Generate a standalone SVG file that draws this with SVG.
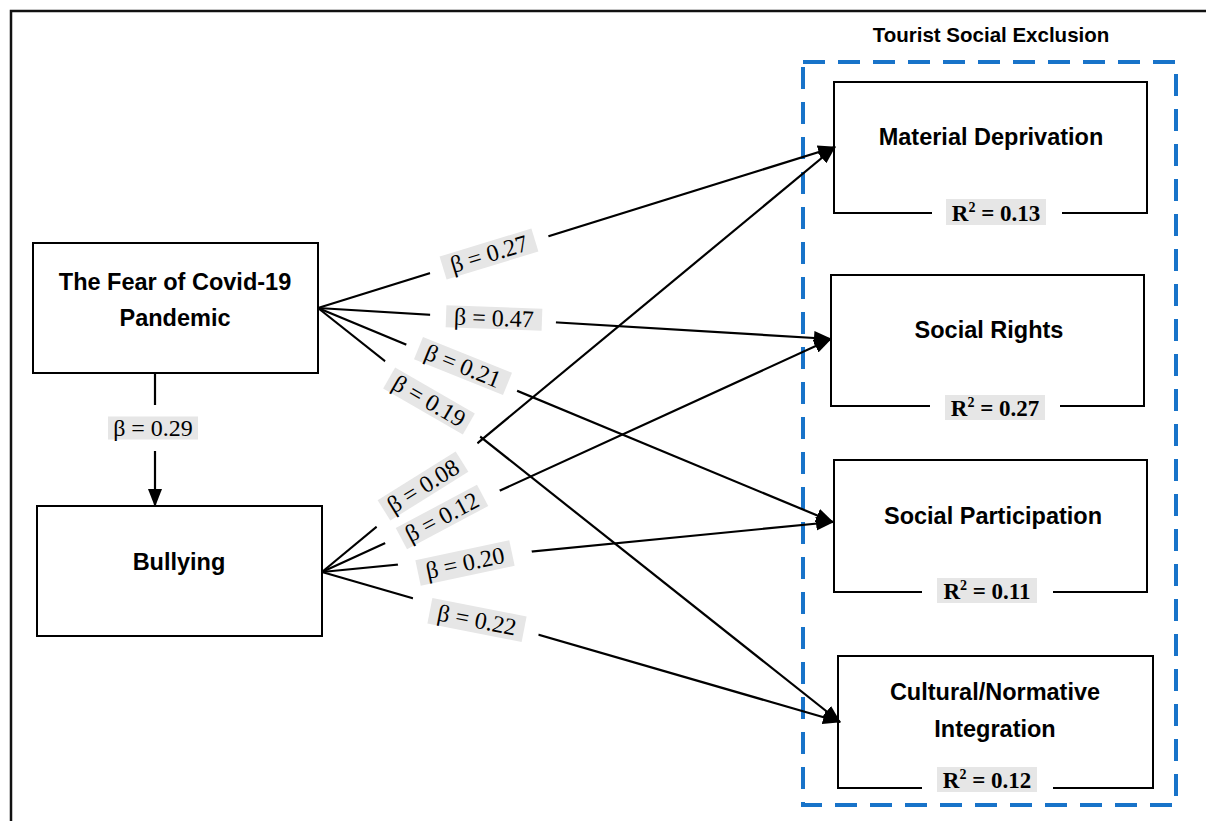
<svg xmlns="http://www.w3.org/2000/svg" width="1206" height="821" viewBox="0 0 1206 821">
<style>
.node{fill:#fff;stroke:#000;stroke-width:2}
.nt{font-family:"Liberation Sans",Arial,sans-serif;font-weight:bold;font-size:23.5px;text-anchor:middle;fill:#000}
.conn{stroke:#000;stroke-width:2.2;fill:none;marker-end:url(#ah)}
.wb{fill:#fff}
.gb{fill:#e6e6e6}
.bt{font-family:"Liberation Serif","Times New Roman",serif;font-size:24px;text-anchor:middle;fill:#000}
.rt{font-family:"Liberation Serif","Times New Roman",serif;font-size:23px;font-weight:bold;text-anchor:middle;fill:#000}
</style>
<defs>
<marker id="ah" markerUnits="userSpaceOnUse" viewBox="0 0 18 14" markerWidth="18" markerHeight="14" refX="17" refY="7" orient="auto">
<path d="M0,0 L18,7 L0,14 z" fill="#000"/>
</marker>
</defs>
<rect width="1206" height="821" fill="#fff"/>
<path d="M11,821 V11 H1206" fill="none" stroke="#111" stroke-width="2.5"/>
<g id="group-tse">
<rect x="803" y="62" width="373" height="743" fill="none" stroke="#1873c9" stroke-width="4" stroke-dasharray="22 13"/>
<text x="991" y="42" font-family="Liberation Sans,Arial,sans-serif" font-weight="bold" font-size="20.5" text-anchor="middle">Tourist Social Exclusion</text>
</g>
<g id="node-fear">
<rect class="node" x="33" y="243" width="285" height="130"/>
<text class="nt" x="175" y="290">The Fear of Covid-19</text>
<text class="nt" x="175" y="326">Pandemic</text>
</g>
<g id="node-bullying">
<rect class="node" x="37" y="506" width="285" height="130"/>
<text class="nt" x="179" y="570">Bullying</text>
</g>
<g id="node-md">
<rect class="node" x="834" y="82" width="313" height="131"/>
<text class="nt" x="991" y="145">Material Deprivation</text>
<rect class="wb" x="932" y="205" width="130" height="20"/>
<rect class="gb" x="946" y="199" width="100" height="26"/>
<text class="rt" x="996" y="221">R<tspan font-size="14" dy="-9">2</tspan><tspan dy="9"> = 0.13</tspan></text>
</g>
<g id="node-sr">
<rect class="node" x="831" y="275" width="313" height="131"/>
<text class="nt" x="989" y="338">Social Rights</text>
<rect class="wb" x="930" y="398" width="130" height="20"/>
<rect class="gb" x="945" y="395" width="100" height="25"/>
<text class="rt" x="995" y="416">R<tspan font-size="14" dy="-9">2</tspan><tspan dy="9"> = 0.27</tspan></text>
</g>
<g id="node-sp">
<rect class="node" x="834" y="460" width="313" height="132"/>
<text class="nt" x="993" y="524">Social Participation</text>
<rect class="wb" x="922" y="584" width="131" height="20"/>
<rect class="gb" x="937" y="578" width="100" height="25"/>
<text class="rt" x="987" y="599">R<tspan font-size="14" dy="-9">2</tspan><tspan dy="9"> = 0.11</tspan></text>
</g>
<g id="node-cn">
<rect class="node" x="838" y="656" width="315" height="132"/>
<text class="nt" x="995" y="700">Cultural/Normative</text>
<text class="nt" x="995" y="737">Integration</text>
<rect class="wb" x="922" y="780" width="131" height="16"/>
<rect class="gb" x="937" y="767" width="100" height="25"/>
<text class="rt" x="987" y="788">R<tspan font-size="14" dy="-9">2</tspan><tspan dy="9"> = 0.12</tspan></text>
</g>
<g id="connectors">
<line class="conn" x1="318" y1="308" x2="835" y2="147"/>
<line class="conn" x1="318" y1="308" x2="831" y2="339"/>
<line class="conn" x1="318" y1="308" x2="833" y2="522"/>
<line class="conn" x1="318" y1="308" x2="840" y2="722"/>
<line class="conn" x1="322" y1="572" x2="835" y2="147"/>
<line class="conn" x1="322" y1="572" x2="831" y2="339"/>
<line class="conn" x1="322" y1="572" x2="833" y2="522"/>
<line class="conn" x1="322" y1="572" x2="840" y2="722"/>
<line class="conn" x1="155" y1="373" x2="155" y2="506"/>
<g id="label-masks">
<rect class="wb" x="-62" y="-20" width="124" height="40" transform="translate(489,254) rotate(-17)"/>
<rect class="wb" x="-63" y="-17" width="126" height="34" transform="translate(493,319) rotate(2)"/>
<rect class="wb" x="-60" y="-18" width="120" height="36" transform="translate(462,367) rotate(22)"/>
<rect class="wb" x="-60" y="-17" width="120" height="34" transform="translate(432,400) rotate(30)"/>
<rect class="wb" x="-65" y="-16" width="130" height="32" transform="translate(427,485) rotate(-33)"/>
<rect class="wb" x="-63" y="-16" width="126" height="32" transform="translate(442,516) rotate(-27)"/>
<rect class="wb" x="-67" y="-20" width="134" height="40" transform="translate(465,559) rotate(-10)"/>
<rect class="wb" x="-65" y="-20" width="130" height="40" transform="translate(476,615) rotate(10)"/>
<rect class="wb" x="-60" y="-23" width="120" height="46" transform="translate(153,428)"/>
</g>
<g id="labels">
<g transform="translate(489,254) rotate(-17)"><rect class="gb" x="-48" y="-12" width="96" height="24"/><text class="bt" x="0" y="8">β = 0.27</text></g>
<g transform="translate(494,318) rotate(2)"><rect class="gb" x="-48" y="-11" width="96" height="22"/><text class="bt" x="0" y="8">β = 0.47</text></g>
<g transform="translate(463,366) rotate(22)"><rect class="gb" x="-48" y="-12" width="96" height="24"/><text class="bt" x="0" y="8">β = 0.21</text></g>
<g transform="translate(429,401) rotate(30)"><rect class="gb" x="-46" y="-12" width="92" height="24"/><text class="bt" x="0" y="8">β = 0.19</text></g>
<g transform="translate(423,486) rotate(-32)"><rect class="gb" x="-46" y="-12" width="92" height="24"/><text class="bt" x="0" y="8">β = 0.08</text></g>
<g transform="translate(442,517) rotate(-28)"><rect class="gb" x="-46" y="-12" width="92" height="24"/><text class="bt" x="0" y="8">β = 0.12</text></g>
<g transform="translate(465,563) rotate(-12)"><rect class="gb" x="-48" y="-13" width="96" height="26"/><text class="bt" x="0" y="8">β = 0.20</text></g>
<g transform="translate(477,620) rotate(11)"><rect class="gb" x="-48" y="-13" width="96" height="26"/><text class="bt" x="0" y="8">β = 0.22</text></g>
<g transform="translate(153,428)"><rect class="gb" x="-45" y="-11.5" width="90" height="23"/><text class="bt" x="0" y="8">β = 0.29</text></g>
</g>
</g>
</svg>
